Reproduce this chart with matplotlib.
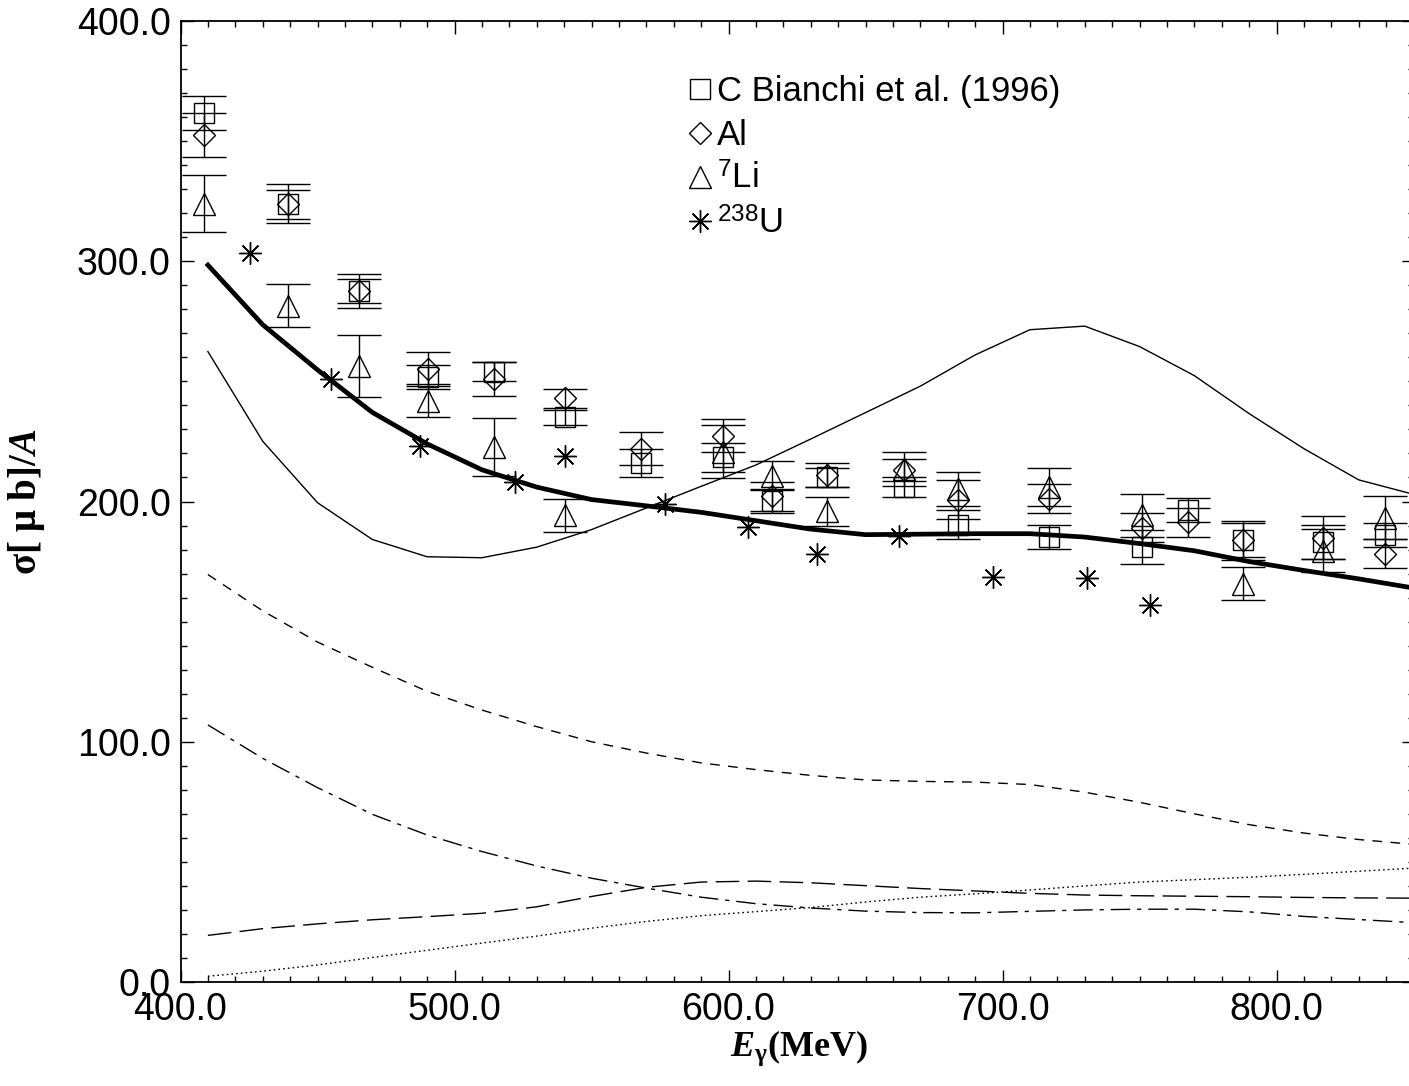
import matplotlib
matplotlib.use("Agg")
import matplotlib.pyplot as plt
from matplotlib.lines import Line2D
from matplotlib.ticker import MultipleLocator, FormatStrFormatter

# -------------------------------
# data
# -------------------------------
E_C = [408.5, 439.3, 465.3, 490.2, 514.3, 540.2, 568.1, 598.0, 615.9,
       635.9, 664.1, 683.9, 716.8, 750.8, 767.8, 787.9, 817.1, 839.6]
sig_C = [361.6, 323.7, 287.7, 251.7, 254.0, 235.0, 216.0, 218.4, 200.4,
         210.1, 206.0, 190.4, 185.2, 181.0, 196.3, 184.0, 183.1, 185.9]
err_C = [7, 6, 7, 5, 4, 3, 6, 6, 5, 4, 4, 6, 5, 7, 5, 7, 7, 5]

E_Al = E_C
sig_Al = [352.6, 324.0, 287.7, 255.2, 251.0, 243.0, 222.0, 227.4, 202.1,
          211.1, 213.2, 200.8, 201.1, 189.1, 191.4, 183.8, 184.9, 178.3]
err_Al = [9, 8, 5, 7, 7, 4, 7, 7, 6, 5, 4.5, 8, 6, 6, 6, 8, 9, 6]

E_Li = [408.5, 439.3, 465.3, 490.2, 514.3, 540.2, 598.0, 615.9,
        635.9, 664.1, 683.9, 716.8, 750.8, 787.9, 817.1, 839.6]
sig_Li = [324.0, 281.5, 256.5, 242.0, 222.8, 194.2, 220.8, 210.8,
          196.0, 213.6, 205.3, 206.0, 194.2, 165.8, 179.6, 193.2]
err_Li = [12, 9, 13, 7, 12, 7, 11, 6, 6, 7, 7, 8, 9, 7, 9, 9]

E_U = [425.4, 454.9, 487.3, 521.9, 540.3, 576.8, 607.1, 632.3, 662.1, 696.4, 730.8, 753.9]
sig_U = [303.4, 251.0, 222.9, 208.0, 219.1, 198.8, 189.3, 178.0, 185.6, 168.4, 168.3, 156.8]

# theory curves
E_th = [410, 430, 450, 470, 490, 510, 530, 550, 570, 590, 610, 630,
        650, 670, 690, 710, 730, 750, 770, 790, 810, 830, 850]
total = [298.4, 273.6, 254.8, 237.1, 224.0, 213.2, 206.0, 200.8, 198.2, 195.5, 192.0, 188.5,
         186.2, 186.4, 186.6, 186.6, 185.2, 182.5, 179.5, 175.0, 171.3, 167.8, 164.0]
thin = [262.4, 225.1, 199.5, 184.2, 177.0, 176.6, 181.0, 188.3, 197.3, 206.3, 215.2, 226.0,
        237.0, 248.0, 261.0, 271.5, 273.0, 264.5, 252.4, 236.6, 222.0, 209.0, 203.0]
short_dash = [169.6, 154.5, 141.5, 131.0, 121.0, 113.2, 106.3, 100.0, 95.3, 91.2, 88.4, 86.0,
              84.1, 83.5, 83.2, 82.2, 79.0, 74.8, 70.0, 65.5, 62.0, 59.3, 57.3]
dash_dot = [107.0, 93.1, 80.9, 69.8, 61.2, 54.3, 48.3, 43.2, 39.1, 35.3, 32.6, 30.8,
            29.5, 28.9, 28.8, 29.4, 30.0, 30.3, 30.3, 29.2, 27.3, 26.0, 24.7]
long_dash = [19.4, 22.2, 24.2, 25.9, 27.2, 28.6, 31.3, 35.6, 39.4, 41.6, 42.0, 41.3,
             40.1, 38.9, 37.9, 36.9, 36.2, 35.9, 35.7, 35.5, 35.2, 35.0, 34.9]
dotted = [2.4, 4.5, 7.1, 10.2, 13.2, 16.2, 19.1, 22.4, 25.2, 27.6, 29.3, 31.0,
          33.3, 35.3, 36.7, 38.3, 40.0, 41.6, 42.6, 43.6, 44.8, 46.1, 47.4]

labels = ["C Bianchi et al. (1996)", "Al", r"$^{7}$Li", r"$^{238}$U"]

# -------------------------------
# style
# -------------------------------
plt.rcParams["font.family"] = ["Liberation Sans", "DejaVu Sans"]
plt.rcParams["mathtext.fontset"] = "custom"
plt.rcParams["mathtext.rm"] = "Liberation Sans"
plt.rcParams["mathtext.bf"] = "Liberation Serif:bold"
plt.rcParams["mathtext.it"] = "Liberation Serif:italic"
plt.rcParams["mathtext.bfit"] = "Liberation Serif:italic:bold"

fig = plt.figure(figsize=(14.09, 10.86), dpi=100)
ax = fig.add_axes([180.5 / 1409, 1 - 982 / 1086, 1233 / 1409, 961 / 1086])

# theory curves
ax.plot(E_th, total, color="black", lw=3.4, solid_joinstyle="round")
ax.plot(E_th, thin, color="black", lw=1.0)
ax.plot(E_th, short_dash, color="black", lw=1.0, dashes=(7, 6))
ax.plot(E_th, dash_dot, color="black", lw=1.0, dashes=(14, 5, 3, 5))
ax.plot(E_th, long_dash, color="black", lw=1.0, dashes=(17, 6))
ax.plot(E_th, dotted, color="black", lw=1.0, dashes=(1.2, 2.2))

# data with error bars
ebkw = dict(fmt="none", ecolor="black", elinewidth=1.0, capsize=16, capthick=1.0)
ax.errorbar(E_C, sig_C, yerr=err_C, **ebkw)
ax.errorbar(E_Al, sig_Al, yerr=err_Al, **ebkw)
ax.errorbar(E_Li, sig_Li, yerr=err_Li, **ebkw)

mk = dict(ls="none", mfc="none", mec="black", mew=1.0)
ax.plot(E_C, sig_C, marker="s", ms=14.4, **mk)
ax.plot(E_Al, sig_Al, marker="D", ms=11.2, **mk)
ax.plot(E_Li, sig_Li, marker="^", ms=16, **mk)
ax.plot(E_U, sig_U, marker=(8, 2, 0), ms=16, **mk)

# legend (markers only)
handles = [Line2D([], [], marker="s", ms=14.4, **mk),
           Line2D([], [], marker="D", ms=11.2, **mk),
           Line2D([], [], marker="^", ms=16, **mk),
           Line2D([], [], marker=(8, 2, 0), ms=16, **mk)]
ax.legend(handles, labels, loc="upper left", bbox_to_anchor=(0.41, 0.944),
          frameon=False, fontsize=25, handlelength=0.8, handletextpad=0.08,
          labelspacing=0.32, borderpad=0.0, borderaxespad=0.0)

# axes
ax.set_xlim(400, 850)
ax.set_ylim(0, 400)
ax.xaxis.set_major_locator(MultipleLocator(100))
ax.xaxis.set_minor_locator(MultipleLocator(10))
ax.yaxis.set_major_locator(MultipleLocator(100))
ax.yaxis.set_minor_locator(MultipleLocator(10))
ax.xaxis.set_major_formatter(FormatStrFormatter("%.1f"))
ax.yaxis.set_major_formatter(FormatStrFormatter("%.1f"))
ax.tick_params(which="both", direction="in", top=True, right=True, width=1.0)
ax.tick_params(which="major", length=9, labelsize=27, pad=7)
ax.tick_params(which="minor", length=4.5)
for sp in ax.spines.values():
    sp.set_linewidth(1.3)

ax.set_xlabel(r"$\mathbfit{E}_{\mathbf{\gamma}}\mathbf{(MeV)}$", fontsize=26)
ax.set_ylabel(r"$\mathbf{\sigma[\ \mu\ b]/}\mathbfit{A}$", fontsize=28)
ax.xaxis.set_label_coords(0.502, -0.048)
ax.yaxis.set_label_coords(-0.108, 0.5)

fig.savefig("out.png", dpi=100)
